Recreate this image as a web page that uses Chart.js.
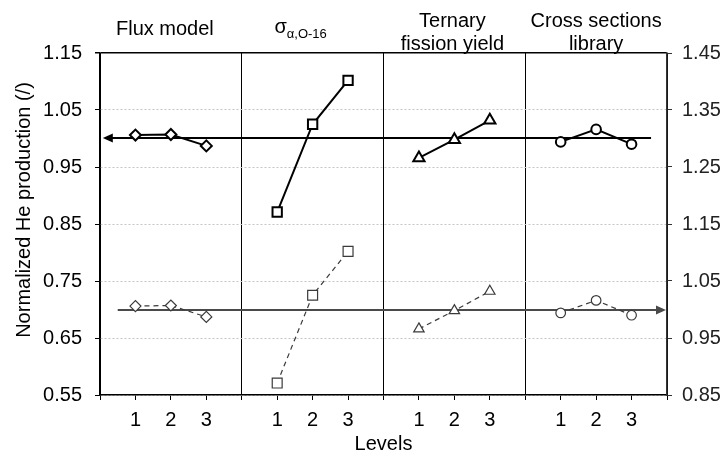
<!DOCTYPE html>
<html><head><meta charset="utf-8">
<script src="https://cdn.jsdelivr.net/npm/chart.js@4.4.0/dist/chart.umd.min.js"></script>
<style>html,body{margin:0;padding:0;background:#fff}#wrap{width:726px;height:456px}</style>
</head><body><div id="wrap"><canvas id="c" width="726" height="456"></canvas></div>
<script>
// ---- data ----
const panelTitles = [['Flux model'], ['σ', 'α,O-16'], ['Ternary', 'fission yield'], ['Cross sections', 'library']];
const levels = ['1', '2', '3'];
const fluxModel = [1.006, 1.007, 0.987];
const sigmaAlphaO16 = [0.871, 1.025, 1.102];
const ternaryFissionYield = [0.966, 0.998, 1.032];
const crossSectionsLibrary = [0.994, 1.016, 0.990];
const leftTicks = [0.55, 0.65, 0.75, 0.85, 0.95, 1.05, 1.15];
const rightTicks = [0.85, 0.95, 1.05, 1.15, 1.25, 1.35, 1.45];
const referenceValue = 1.00;
const yTitle = 'Normalized He production (/)';
const xTitle = 'Levels';

const seriesList = [fluxModel, sigmaAlphaO16, ternaryFissionYield, crossSectionsLibrary];
const markerStyles = ['rectRot', 'rect', 'triangle', 'circle'];
const solidRadius = [5.5, 6.6, 6.5, 4.8];
const dashRadius = [5.5, 7, 6, 4.8];
const titleShift = [-6, -12, -2, 0];
const FONT = "'Liberation Sans', Arial, sans-serif";
const FS = 20;
Chart.defaults.font.family = FONT;
Chart.defaults.color = '#000';

const datasets = [];
seriesList.forEach((arr, p) => {
  const pts = arr.map((v, i) => ({x: p * 4 + i + 1, y: v}));
  datasets.push({
    data: pts, yAxisID: 'y', borderColor: '#000', borderWidth: 2,
    pointStyle: markerStyles[p], pointRadius: solidRadius[p], pointBorderWidth: 2,
    pointBorderColor: '#000', pointBackgroundColor: '#fff', tension: 0
  });
  datasets.push({
    data: pts.map(o => ({x: o.x, y: o.y})), yAxisID: 'y2', borderColor: '#3a3a3a', borderWidth: 1.2,
    borderDash: [5, 4], pointStyle: markerStyles[p], pointRadius: dashRadius[p], pointBorderWidth: 1.2,
    pointBorderColor: '#3a3a3a', pointBackgroundColor: '#fff', tension: 0
  });
});

function arrow(ctx, tipX, y, dir, color) {
  ctx.beginPath();
  ctx.moveTo(tipX, y);
  ctx.lineTo(tipX + dir * 10, y - 4.5);
  ctx.lineTo(tipX + dir * 10, y + 4.5);
  ctx.closePath();
  ctx.fillStyle = color;
  ctx.fill();
}

const refPlugin = {
  id: 'refLines',
  beforeDatasetsDraw(chart) {
    const {ctx, scales: {x, y, y2}} = chart;
    ctx.save();
    let py = Math.round(y.getPixelForValue(referenceValue));
    ctx.strokeStyle = '#000'; ctx.lineWidth = 1.8;
    ctx.beginPath(); ctx.moveTo(x.getPixelForValue(0.2), py); ctx.lineTo(x.getPixelForValue(15.55), py); ctx.stroke();
    arrow(ctx, x.getPixelForValue(0.08), py, 1, '#000');
    py = Math.round(y2.getPixelForValue(referenceValue));
    ctx.strokeStyle = '#4a4a4a';
    ctx.beginPath(); ctx.moveTo(x.getPixelForValue(0.5), py); ctx.lineTo(x.getPixelForValue(15.8), py); ctx.stroke();
    arrow(ctx, x.getPixelForValue(16) - 1, py, -1, '#4a4a4a');
    ctx.restore();
  },
  afterDraw(chart) {
    const {ctx, scales: {x}} = chart;
    ctx.save();
    ctx.fillStyle = '#000';
    ctx.textBaseline = 'alphabetic';
    panelTitles.forEach((t, p) => {
      const cx = x.getPixelForValue(p * 4 + 2) + titleShift[p];
      if (p === 1) {
        ctx.font = FS + 'px ' + FONT;
        const w1 = ctx.measureText(t[0]).width;
        ctx.font = '13px ' + FONT;
        const w2 = ctx.measureText(t[1]).width;
        const start = cx - (w1 + w2) / 2;
        ctx.textAlign = 'left';
        ctx.font = FS + 'px ' + FONT;
        ctx.fillText(t[0], start, 33);
        ctx.font = '13px ' + FONT;
        ctx.fillText(t[1], start + w1, 37.5);
      } else {
        ctx.textAlign = 'center';
        ctx.font = FS + 'px ' + FONT;
        if (t.length === 1) ctx.fillText(t[0], cx, 35);
        else { ctx.fillText(t[0], cx, 27); ctx.fillText(t[1], cx, 49.5); }
      }
    });
    ctx.save();
    ctx.translate(30, 210);
    ctx.rotate(-Math.PI / 2);
    ctx.textAlign = 'center';
    ctx.font = FS + 'px ' + FONT;
    ctx.fillText(yTitle, 0, 0);
    ctx.restore();
    ctx.textAlign = 'center';
    ctx.font = FS + 'px ' + FONT;
    ctx.fillText(xTitle, (chart.chartArea.left + chart.chartArea.right) / 2, 450);
    ctx.restore();
  }
};

new Chart(document.getElementById('c'), {
  type: 'line',
  data: {datasets},
  options: {
    responsive: false, devicePixelRatio: 1, animation: false,
    layout: {padding: {top: 53, left: 0, right: 0, bottom: 0}},
    plugins: {legend: {display: false}, tooltip: {enabled: false}},
    scales: {
      x: {
        type: 'linear', min: 0, max: 16,
        afterBuildTicks: s => { const t = []; for (let i = 0; i <= 16; i++) t.push({value: i}); s.ticks = t; },
        afterFit: s => { s.height = 61; },
        ticks: {autoSkip: false, maxRotation: 0, padding: 8, font: {size: FS},
          callback: v => (v % 4 === 0 ? '' : levels[v % 4 - 1])},
        grid: {color: c => (c.tick && c.tick.value % 4 === 0 ? '#000' : 'rgba(0,0,0,0)'),
          lineWidth: 1, tickColor: '#000', tickLength: 5},
        border: {color: '#000', width: 1.5}
      },
      y: {
        position: 'left', min: 0.55, max: 1.15,
        afterBuildTicks: s => { s.ticks = leftTicks.map(v => ({value: v})); },
        afterFit: s => { s.width = 100; },
        ticks: {padding: 13, font: {size: FS}, callback: v => Number(v).toFixed(2)},
        grid: {color: c => (c.tick && Math.abs(c.tick.value - 1.15) < 1e-6 ? '#000' : '#c4c4c4'),
          lineWidth: c => (c.tick && Math.abs(c.tick.value - 1.15) < 1e-6 ? 1.5 : 1),
          tickColor: '#000', tickLength: 5},
        border: {color: '#000', width: 1.5,
          dash: c => (c.tick && Math.abs(c.tick.value - 1.15) < 1e-6 ? [] : [2, 2])}
      },
      y2: {
        position: 'right', min: 0.85, max: 1.45,
        afterBuildTicks: s => { s.ticks = rightTicks.map(v => ({value: v})); },
        afterFit: s => { s.width = 59; },
        ticks: {padding: 10, font: {size: FS}, color: '#222', callback: v => Number(v).toFixed(2)},
        grid: {drawOnChartArea: false, tickColor: '#333', tickLength: 5},
        border: {color: '#333', width: 1.5}
      }
    }
  },
  plugins: [refPlugin]
});
</script></body></html>
